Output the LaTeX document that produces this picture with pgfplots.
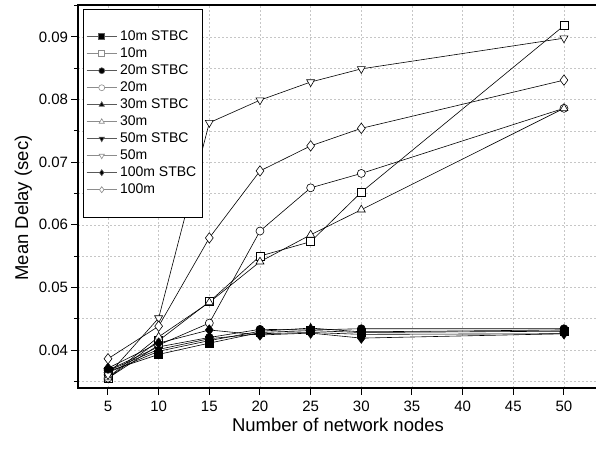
\documentclass[border=0pt]{standalone}
\usepackage{fontspec}
\setmainfont{Liberation Sans}
\usepackage{pgfplots}
\pgfplotsset{compat=1.18}

\pgfplotsset{
  stbc/.style={black, line width=0.6pt, mark size=4pt,
    legend image code/.code={\draw[mark repeat=2,mark phase=2,##1,mark size=3pt,draw=black!65] plot coordinates {(0pt,0pt) (15pt,0pt) (30pt,0pt)};}},
  open/.style={black, line width=0.6pt, mark size=4pt,
    legend image code/.code={\draw[mark repeat=2,mark phase=2,##1,mark size=3pt,draw=black!45] plot coordinates {(0pt,0pt) (15pt,0pt) (30pt,0pt)};}},
  every axis legend/.append style={inner ysep=19.5pt},
}

\begin{document}
\begin{tikzpicture}
\begin{axis}[
  name=ax,
  width=520pt, height=383pt, scale only axis,
  xmin=2.04, xmax=53.36, ymin=0.03393, ymax=0.0951,
  xtick={5,10,15,20,25,30,35,40,45,50},
  ytick={0.04,0.05,0.06,0.07,0.08,0.09},
  minor ytick={0.035,0.045,0.055,0.065,0.075,0.085,0.095},
  scaled y ticks=false,
  tick align=outside,
  major tick length=6.5pt, minor tick length=4pt,
  xtick pos=bottom, ytick pos=left,
  grid=both,
  major grid style={dash pattern=on 2pt off 2pt, gray!45, line width=0.5pt},
  minor grid style={dash pattern=on 2pt off 2pt, gray!45, line width=0.5pt},
  axis line style={line width=1.3pt},
  every tick/.style={black, line width=1pt},
  /pgf/number format/assume math mode=true,
  yticklabel style={/pgf/number format/fixed, /pgf/number format/fixed zerofill, /pgf/number format/precision=2},
  tick label style={font=\fontsize{15}{15}\selectfont},
  xticklabel style={yshift=-3pt},
  label style={font=\fontsize{18.5}{18.5}\selectfont},
  xlabel={Number of network nodes},
  ylabel={Mean Delay (sec)},
  ylabel style={at={(ticklabel cs:0.47)}},
  legend cell align=left,
  legend style={at={(0.0097,0.99)}, anchor=north west, draw=black, line width=0.8pt,
    fill=white, font=\fontsize{14}{14}\selectfont, inner xsep=3pt,
    row sep=1pt, cells={nodes={text height=10pt, text depth=3pt, inner ysep=1.5pt, inner xsep=3pt}}},
]
\addplot[stbc, mark=square*, mark options={solid, fill=black}] coordinates {(5,0.0366) (10,0.0393) (15,0.0411) (20,0.0428) (25,0.0431) (30,0.0428) (50,0.0430)};
\addlegendentry{10m STBC}
\addplot[open, mark=square*, mark options={solid, fill=white}] coordinates {(5,0.0355) (10,0.0415) (15,0.0477) (20,0.0550) (25,0.0573) (30,0.0652) (50,0.0918)};
\addlegendentry{10m}
\addplot[stbc, mark=*, mark options={solid, fill=black}] coordinates {(5,0.0368) (10,0.0405) (15,0.0420) (20,0.0433) (25,0.0432) (30,0.0434) (50,0.0434)};
\addlegendentry{20m STBC}
\addplot[open, mark=*, mark options={solid, fill=white}] coordinates {(5,0.0355) (10,0.0408) (15,0.0443) (20,0.0590) (25,0.0659) (30,0.0682) (50,0.0786)};
\addlegendentry{20m}
\addplot[stbc, mark=triangle*, mark options={solid, fill=black}, mark size=4.6pt] coordinates {(5,0.0364) (10,0.0398) (15,0.0415) (20,0.0430) (25,0.0435) (30,0.0429) (50,0.0432)};
\addlegendentry{30m STBC}
\addplot[open, mark=triangle*, mark options={solid, fill=white}, mark size=4.6pt] coordinates {(5,0.0356) (10,0.0421) (15,0.0476) (20,0.0541) (25,0.0584) (30,0.0624) (50,0.0786)};
\addlegendentry{30m}
\addplot[stbc, mark=triangle*, mark options={solid, fill=black, rotate=180}, mark size=4.6pt] coordinates {(5,0.0367) (10,0.0401) (15,0.0418) (20,0.0426) (25,0.0428) (30,0.0425) (50,0.0426)};
\addlegendentry{50m STBC}
\addplot[open, mark=triangle*, mark options={solid, fill=white, rotate=180}, mark size=4.6pt] coordinates {(5,0.0360) (10,0.0451) (15,0.0763) (20,0.0799) (25,0.0828) (30,0.0849) (50,0.0898)};
\addlegendentry{50m}
\addplot[stbc, mark=diamond*, mark options={solid, fill=black}, mark size=5.2pt] coordinates {(5,0.0371) (10,0.0411) (15,0.0432) (20,0.0424) (25,0.0427) (30,0.0419) (50,0.0426)};
\addlegendentry{100m STBC}
\addplot[open, mark=diamond*, mark options={solid, fill=white}, mark size=5.2pt] coordinates {(5,0.0386) (10,0.0438) (15,0.0579) (20,0.0686) (25,0.0726) (30,0.0754) (50,0.0831)};
\addlegendentry{100m}
\end{axis}
\pgfresetboundingbox
\path ([xshift=-78pt,yshift=-61pt]ax.south west) rectangle ([xshift=-2pt,yshift=5pt]ax.north east);
\end{tikzpicture}
\end{document}
